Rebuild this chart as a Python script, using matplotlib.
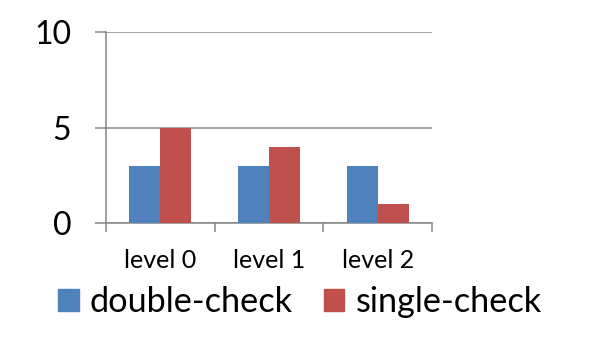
import matplotlib
matplotlib.use("Agg")
import matplotlib.pyplot as plt
from matplotlib.patches import Patch
import numpy as np

categories = ["level 0", "level 1", "level 2"]
double_check = [3, 3, 3]
single_check = [5, 4, 1]
y_ticks = [0, 5, 10]

plt.rcParams['font.family'] = ['Lato', 'DejaVu Sans']

fig = plt.figure(figsize=(5.91, 3.43), dpi=100)
ax = fig.add_axes([106/591, 1 - 223/343, (432-106)/591, (223-32)/343])

blue = "#4F81BD"
red = "#C0504D"
grid_c = "#868686"

x = np.arange(len(categories))
w = 0.285
ax.bar(x - w/2, double_check, width=w, color=blue, label="double-check", zorder=3)
ax.bar(x + w/2, single_check, width=w, color=red, label="single-check", zorder=3)

ax.set_xlim(-0.5, len(categories) - 0.5)
ax.set_ylim(0, 10)
ax.set_yticks(y_ticks)
ax.set_yticklabels([str(v) for v in y_ticks], fontsize=23)
ax.yaxis.grid(True, color=grid_c, linewidth=1.1, zorder=0)
ax.set_axisbelow(True)

ax.set_xticks(np.arange(-0.5, len(categories), 1.0))
ax.set_xticklabels([])
ax.set_xticks(x, minor=True)
ax.set_xticklabels(categories, minor=True, fontsize=18)
ax.tick_params(axis='x', which='minor', length=0, pad=19)
ax.tick_params(axis='x', which='major', length=6.5, width=1.1, color=grid_c, direction='out')
ax.tick_params(axis='y', which='major', length=8, width=1.1, color=grid_c, pad=17)

for s in ['top', 'right']:
    ax.spines[s].set_visible(False)
for s in ['left', 'bottom']:
    ax.spines[s].set_color(grid_c)
    ax.spines[s].set_linewidth(1.1)

handles = [Patch(color=blue, label="double-check"), Patch(color=red, label="single-check")]
fig.legend(handles=handles, loc='center', bbox_to_anchor=(300/591, 1 - 302/343),
           ncol=2, frameon=False, fontsize=24.7, handlelength=0.6, handleheight=0.6,
           handletextpad=0.33, columnspacing=0.9, borderaxespad=0, borderpad=0)

fig.savefig("out.png", dpi=100)
